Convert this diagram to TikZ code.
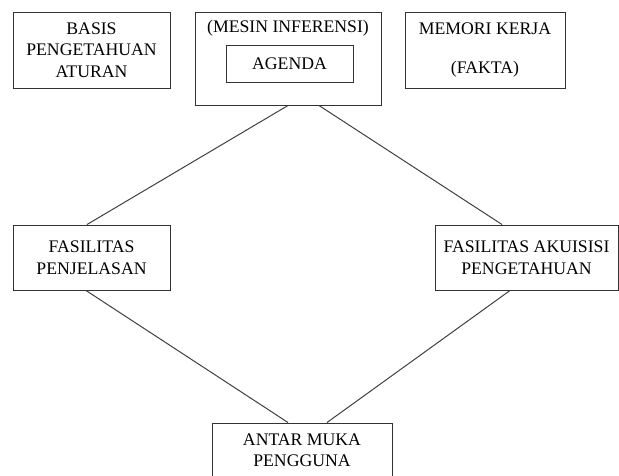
\documentclass[tikz,border=0pt]{standalone}
\usepackage{fontspec}
\setmainfont{Liberation Serif}

\begin{document}
\begin{tikzpicture}[x=1pt, y=-1pt, font=\fontsize{17.7}{21.5}\selectfont,
    kotak/.style={draw=black!80, line width=1pt, inner sep=0pt, align=center},
    garis/.style={draw=black!75, line width=1pt}]
        \useasboundingbox (0,0) rectangle (619,475);
        \clip (0,0) rectangle (619,475);
        \draw[anchor=center] (91.5,50) node[kotak, minimum width=157pt, minimum height=76pt] (basis) {BASIS\\PENGETAHUAN\\ATURAN}; % kotak kiri atas
        \draw[anchor=center] (288,58.5) node[kotak, minimum width=186pt, minimum height=93pt] (mesin) {}; % mesin inferensi
        \draw[anchor=center] (288,28) node (judul) {(MESIN INFERENSI)} (289.5,63.5) node[kotak, minimum width=127pt, minimum height=37pt] (agenda) {AGENDA}; % isi mesin
        \draw[anchor=center] (485,50) node[kotak, minimum width=160pt, minimum height=76pt] (memori) {MEMORI KERJA\\[17pt](FAKTA)}; % kotak kanan atas
        \draw[anchor=center] (91.5,257.5) node[kotak, minimum width=157pt, minimum height=65pt] (penjelasan) {FASILITAS\\PENJELASAN}; % tengah kiri
        \draw[anchor=center] (526.5,257.5) node[kotak, minimum width=183pt, minimum height=65pt] (akuisisi) {FASILITAS AKUISISI\\PENGETAHUAN}; % tengah kanan
        \draw[anchor=center] (302,450) node[kotak, minimum width=180pt, minimum height=54pt] (antarmuka) {ANTAR MUKA\\PENGGUNA}; % bawah
        \draw[garis] (mesin.south) -- ([xshift=-4.5pt]penjelasan.north); % garis penghubung
        \draw[garis] ([xshift=31pt]mesin.south) -- ([xshift=-24.5pt]akuisisi.north);
        \draw[garis] ([xshift=-5.5pt]penjelasan.south) -- ([xshift=-14pt]antarmuka.north);
        \draw[garis] ([xshift=-16.5pt]akuisisi.south) -- ([xshift=25pt]antarmuka.north);
    \end{tikzpicture}
\end{document}
